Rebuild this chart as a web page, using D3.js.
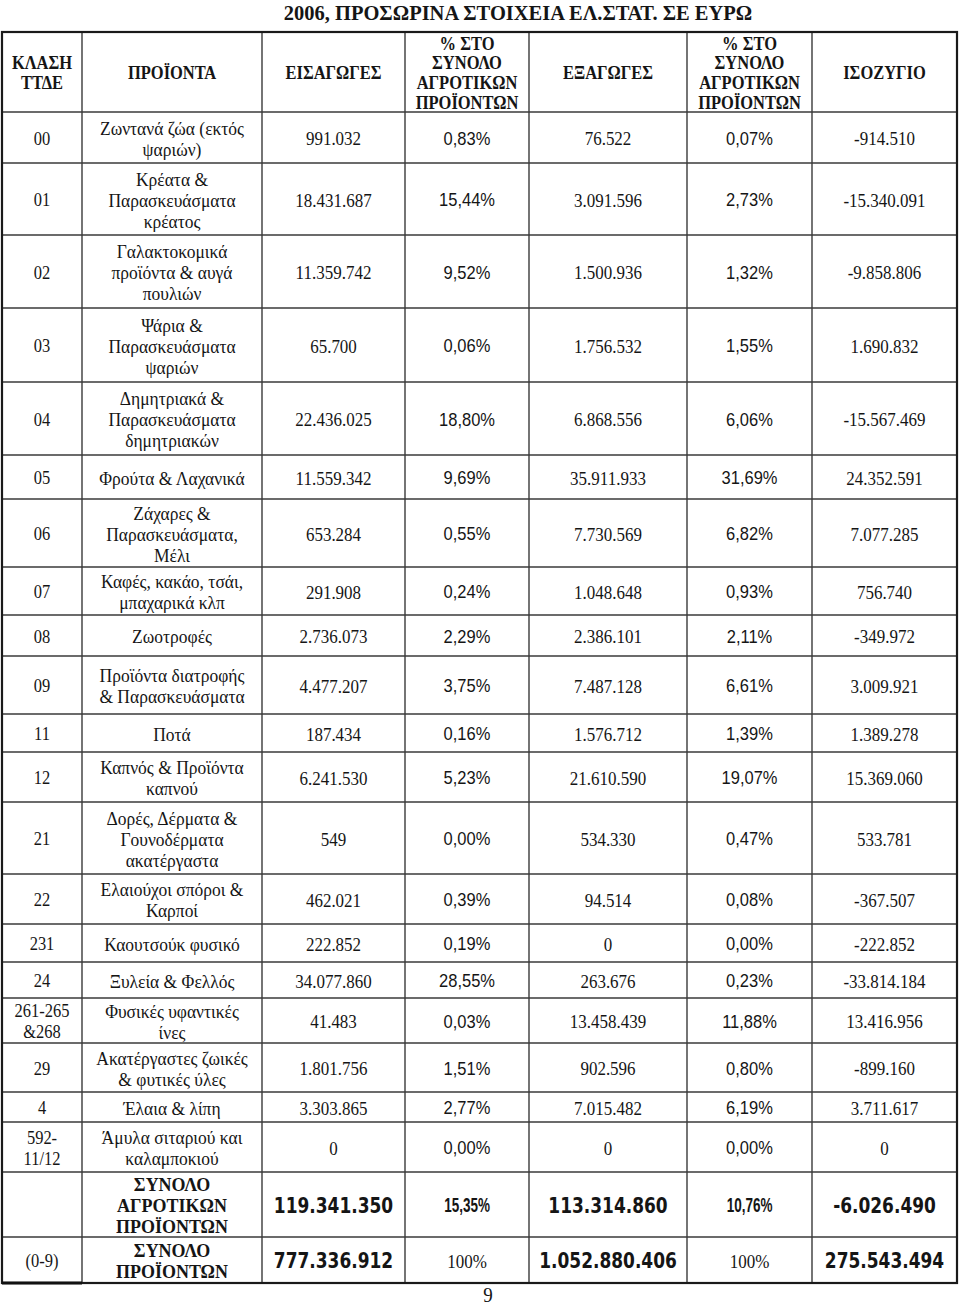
<!DOCTYPE html>
<html><head><meta charset="utf-8">
<script src="https://cdn.jsdelivr.net/npm/d3@7"></script>
<style>body{margin:0;background:#fff}svg{display:block}</style>
</head><body><div id="chart"></div>
<script>
// ---------- DATA ----------
const title = "2006, ΠΡΟΣΩΡΙΝΑ ΣΤΟΙΧΕΙΑ ΕΛ.ΣΤΑΤ. ΣΕ ΕΥΡΩ";
const headers = ["ΚΛΑΣΗ\nΤΤΔΕ","ΠΡΟΪΟΝΤΑ","ΕΙΣΑΓΩΓΕΣ","% ΣΤΟ\nΣΥΝΟΛΟ\nΑΓΡΟΤΙΚΩΝ\nΠΡΟΪΟΝΤΩΝ","ΕΞΑΓΩΓΕΣ","% ΣΤΟ\nΣΥΝΟΛΟ\nΑΓΡΟΤΙΚΩΝ\nΠΡΟΪΟΝΤΩΝ","ΙΣΟΖΥΓΙΟ"];
const codes = ["00","01","02","03","04","05","06","07","08","09","11","12","21","22","231","24","261-265\n&268","29","4","592-\n11/12","","(0-9)"];
const products = [
  "Ζωντανά ζώα (εκτός\nψαριών)",
  "Κρέατα &\nΠαρασκευάσματα\nκρέατος",
  "Γαλακτοκομικά\nπροϊόντα & αυγά\nπουλιών",
  "Ψάρια &\nΠαρασκευάσματα\nψαριών",
  "Δημητριακά &\nΠαρασκευάσματα\nδημητριακών",
  "Φρούτα & Λαχανικά",
  "Ζάχαρες &\nΠαρασκευάσματα,\nΜέλι",
  "Καφές, κακάο, τσάι,\nμπαχαρικά κλπ",
  "Ζωοτροφές",
  "Προϊόντα διατροφής\n& Παρασκευάσματα",
  "Ποτά",
  "Καπνός & Προϊόντα\nκαπνού",
  "Δορές, Δέρματα &\nΓουνοδέρματα\nακατέργαστα",
  "Ελαιούχοι σπόροι &\nΚαρποί",
  "Καουτσούκ φυσικό",
  "Ξυλεία & Φελλός",
  "Φυσικές υφαντικές\nίνες",
  "Ακατέργαστες ζωικές\n& φυτικές ύλες",
  "Έλαια & λίπη",
  "Άμυλα σιταριού και\nκαλαμποκιού",
  "ΣΥΝΟΛΟ\nΑΓΡΟΤΙΚΩΝ\nΠΡΟΪΟΝΤΩΝ",
  "ΣΥΝΟΛΟ\nΠΡΟΪΟΝΤΩΝ"
];
const imports   = [991032,18431687,11359742,65700,22436025,11559342,653284,291908,2736073,4477207,187434,6241530,549,462021,222852,34077860,41483,1801756,3303865,0,119341350,777336912];
const importPct = [0.83,15.44,9.52,0.06,18.80,9.69,0.55,0.24,2.29,3.75,0.16,5.23,0.00,0.39,0.19,28.55,0.03,1.51,2.77,0.00,15.35,100];
const exports_  = [76522,3091596,1500936,1756532,6868556,35911933,7730569,1048648,2386101,7487128,1576712,21610590,534330,94514,0,263676,13458439,902596,7015482,0,113314860,1052880406];
const exportPct = [0.07,2.73,1.32,1.55,6.06,31.69,6.82,0.93,2.11,6.61,1.39,19.07,0.47,0.08,0.00,0.23,11.88,0.80,6.19,0.00,10.76,100];
const balance   = [-914510,-15340091,-9858806,1690832,-15567469,24352591,7077285,756740,-349972,3009921,1389278,15369060,533781,-367507,-222852,-33814184,13416956,-899160,3711617,0,-6026490,275543494];
const pageNumber = "9";

// ---------- LAYOUT ----------
const W = 960, H = 1308;
const colEdges = [2, 82, 262, 405, 529, 687, 812, 957];
const tableTop = 32, headerBottom = 112;
const rowHeights = [51,72,73,74,73,44,68,48,41,58,38,50,72,50,38,36,45,49,30,50,65,46];
const nTotals = 2;

const loc = d3.formatLocale({decimal: ",", thousands: ".", grouping: [3], currency: ["", "€"], minus: "-"});
const fmtInt = loc.format(",d");
const fmtPct = v => v === 100 ? "100%" : loc.format(",.2f")(v) + "%";

const rows = codes.map((c, i) => ({
  i, total: i >= codes.length - nTotals, last: i === codes.length - 1,
  cells: [c, products[i], fmtInt(imports[i]), fmtPct(importPct[i]), fmtInt(exports_[i]), fmtPct(exportPct[i]), fmtInt(balance[i])]
}));

const edgesY = [headerBottom, ...Array.from(d3.cumsum(rowHeights), v => v + headerBottom)];
const svg = d3.select("#chart").append("svg").attr("width", W).attr("height", H);
svg.append("rect").attr("width", W).attr("height", H).attr("fill", "#fff");

const SERIF = "'Liberation Serif','Times New Roman',serif";
const SANS = "'Liberation Sans',Arial,sans-serif";
const WIDE = "'DejaVu Sans',Verdana,sans-serif";

function cellText(parent, txt, cx, cy, style) {
  const lines = txt.split("\n");
  const lh = style.lh || 21;
  const sy = style.sy || 1;
  const t = parent.append("text").attr("text-anchor", "middle")
    .attr("transform", `translate(${cx},${cy}) scale(1,${sy})`)
    .attr("font-family", style.family).attr("font-size", style.size)
    .attr("font-weight", style.weight || "normal").attr("fill", "#151515");
  lines.forEach((l, k) => {
    t.append("tspan").attr("x", 0).attr("y", (k - (lines.length - 1) / 2) * lh / sy).attr("dy", "0.35em").text(l);
  });
}

// title
cellText(svg, title, 518, 12, {family: SERIF, size: 20.5, weight: "bold", sy: 1.05});

// grid lines
const g = svg.append("g");
const bottom = edgesY[edgesY.length - 1];
edgesY.forEach(y => g.append("line").attr("x1", colEdges[0]).attr("x2", colEdges[colEdges.length-1])
  .attr("y1", y).attr("y2", y).attr("stroke", "#3a3a3a").attr("stroke-width", 1.4));
colEdges.forEach(x => g.append("line").attr("x1", x).attr("x2", x)
  .attr("y1", tableTop).attr("y2", bottom).attr("stroke", "#3a3a3a").attr("stroke-width", 1.4));
g.append("rect").attr("x", colEdges[0]).attr("y", tableTop)
  .attr("width", colEdges[colEdges.length-1] - colEdges[0]).attr("height", bottom - tableTop)
  .attr("fill", "none").attr("stroke", "#1a1a1a").attr("stroke-width", 2.2);
g.append("line").attr("x1", colEdges[0]).attr("x2", colEdges[1]).attr("y1", bottom).attr("y2", bottom)
  .attr("stroke", "#111").attr("stroke-width", 3);

// header
const colCenter = j => (colEdges[j] + colEdges[j+1]) / 2;
headers.forEach((h, j) => cellText(svg, h, colCenter(j), (tableTop + headerBottom) / 2 + 1,
  {family: SERIF, size: 16.5, weight: "bold", lh: 19.7, sy: 1.08}));

// body
rows.forEach(r => {
  const cy = (edgesY[r.i] + edgesY[r.i + 1]) / 2 + 1;
  r.cells.forEach((c, j) => {
    let st;
    if (j === 0) st = {family: SERIF, size: 16.5, sy: 1.12};
    else if (j === 1) st = r.total ? {family: SERIF, size: 18, weight: "bold", lh: 21, sy: 1.1}
                                   : {family: SERIF, size: 17.5, sy: 1.08, lh: 21};
    else if (j === 3 || j === 5) st = r.total
        ? (r.last ? {family: SERIF, size: 17, sy: 1.1} : {family: SANS, size: 13.5, weight: "bold", sy: 1.45})
        : {family: SANS, size: 16.5, sy: 1.08};
    else st = r.total ? {family: WIDE, size: 17, weight: "bold", sy: 1.22} : {family: SERIF, size: 17, sy: 1.15};
    cellText(svg, c, colCenter(j), cy, st);
  });
});

cellText(svg, pageNumber, 488, 1295, {family: SERIF, size: 19, sy: 1.05});
</script></body></html>
